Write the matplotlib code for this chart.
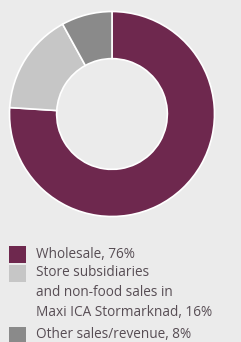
import matplotlib.pyplot as plt
from matplotlib.patches import Rectangle

# share of net sales
labels = ["Wholesale, 76%",
          "Store subsidiaries\nand non-food sales in\nMaxi ICA Stormarknad, 16%",
          "Other sales/revenue, 8%"]
shares = [76, 16, 8]
colors = ["#6e284e", "#c6c6c6", "#8a8a8a"]

BG = "#ebebeb"
TEXT = "#574d54"

W, H = 241, 342
fig = plt.figure(figsize=(W / 100, H / 100), dpi=100)
fig.patch.set_facecolor(BG)

# donut, centre at (112, 114) px from top, outer radius ~102.5 px
cx, cy, r = 112, 114, 102.5
ax = fig.add_axes([(cx - r) / W, (H - cy - r) / H, 2 * r / W, 2 * r / H])
wedges, _ = ax.pie(shares, colors=colors, startangle=90, counterclock=False,
                   radius=1, wedgeprops=dict(width=0.46, edgecolor="white", linewidth=1.2))
ax.set_xlim(-1, 1)
ax.set_ylim(-1, 1)
ax.set_aspect("equal")
ax.axis("off")

# legend drawn by hand (square aligned with first line of each label)
square_tops = [246, 265, 327]
line_gap = 19.5
text_x = 36
for i, (lab, col) in enumerate(zip(labels, colors)):
    top = square_tops[i]
    fig.patches.append(Rectangle((9 / W, 1 - (top + 17) / H), 17 / W, 17 / H,
                                 transform=fig.transFigure, facecolor=col,
                                 edgecolor="none"))
    for j, line in enumerate(lab.split("\n")):
        yc = top + 8 + j * line_gap
        fig.text(text_x / W, 1 - yc / H, line, ha="left", va="center",
                 fontsize=9.8, color=TEXT, family="Open Sans")

fig.savefig("out.png", dpi=100, facecolor=BG)
